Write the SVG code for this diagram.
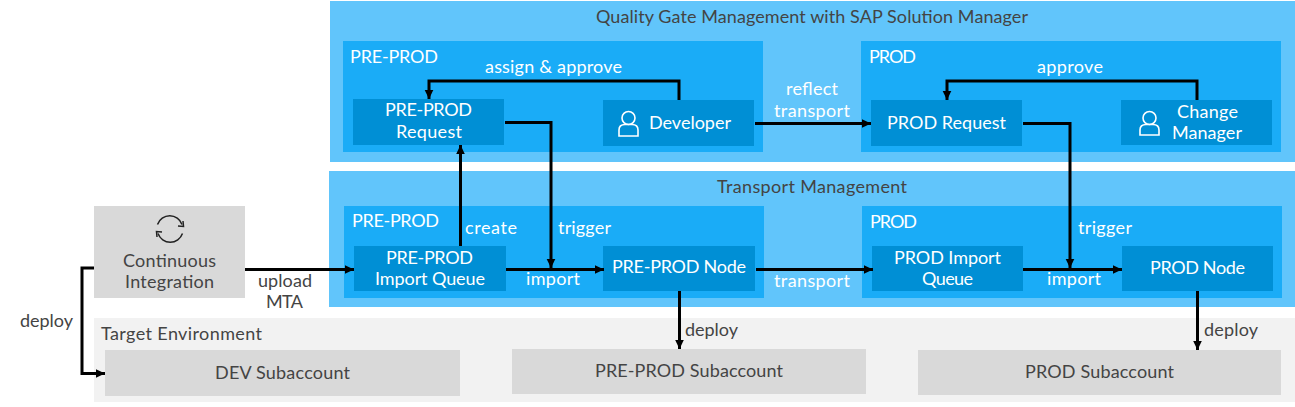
<svg xmlns="http://www.w3.org/2000/svg" width="1295" height="407" viewBox="0 0 1295 407">
<style>
text{font-family:"Lato","Noto Sans","Liberation Sans",sans-serif;font-size:18px}
.w{fill:#fff}.d{fill:#444}
.o{fill:#61c5fb}.i{fill:#1aacf7}.n{fill:#008fd5}.g{fill:#d9d9d9}.l{fill:#f2f2f2}
.c{fill:none;stroke:#000;stroke-width:3}
.ic{fill:none;stroke:#fff;stroke-width:1.6}
</style>
<defs><marker id="a" markerUnits="userSpaceOnUse" markerWidth="10" markerHeight="10" refX="9" refY="5" orient="auto"><path d="M0 0.7L9 5L0 9.3z" fill="#000"/></marker></defs>
<g id="quality-gate"><rect class="o" x="330" y="1" width="965" height="161"/><text class="d" x="596" y="23" textLength="432">Quality Gate Management with SAP Solution Manager</text></g>
<g id="transport-management"><rect class="o" x="329" y="171" width="966" height="136"/><text class="d" x="717" y="193" textLength="190">Transport Management</text></g>
<g id="target-environment"><rect class="l" x="94" y="318" width="1201" height="84"/><text class="d" x="101" y="340" textLength="161">Target Environment</text></g>
<g id="qg-preprod"><rect class="i" x="343" y="41" width="420" height="111"/><text class="w" x="350" y="63" textLength="88">PRE-PROD</text></g>
<g id="qg-prod"><rect class="i" x="861" y="41" width="420" height="111"/><text class="w" x="869" y="63" textLength="47">PROD</text></g>
<g id="tm-preprod"><rect class="i" x="344" y="206" width="420" height="92"/><text class="w" x="352" y="227" textLength="87">PRE-PROD</text></g>
<g id="tm-prod"><rect class="i" x="862" y="206" width="420" height="92"/><text class="w" x="870" y="228" textLength="47">PROD</text></g>
<g id="preprod-request"><rect class="n" x="353" y="99" width="151" height="46"/><text class="w" x="385" y="116" textLength="87">PRE-PROD</text><text class="w" x="396" y="138" textLength="66">Request</text></g>
<g id="developer"><rect class="n" x="603" y="100" width="151" height="46"/><circle class="ic" cx="628.500" cy="118" r="6.500"/><path class="ic" d="M619 136V130Q619 124.500 625 124.500H632Q638 124.500 638 130V136z"/><text class="w" x="649" y="129" textLength="82">Developer</text></g>
<g id="prod-request"><rect class="n" x="871" y="100" width="151" height="46"/><text class="w" x="887" y="129" textLength="119">PROD Request</text></g>
<g id="change-manager"><rect class="n" x="1121" y="100" width="151" height="45"/><circle class="ic" cx="1149.500" cy="118" r="6.500"/><path class="ic" d="M1140 135V130Q1140 124.500 1146 124.500H1153Q1159 124.500 1159 130V135z"/><text class="w" x="1177" y="118" textLength="61">Change</text><text class="w" x="1172" y="139" textLength="70">Manager</text></g>
<g id="preprod-queue"><rect class="n" x="354" y="246" width="152" height="45"/><text class="w" x="386" y="264" textLength="87">PRE-PROD</text><text class="w" x="375" y="285" textLength="110">Import Queue</text></g>
<g id="preprod-node"><rect class="n" x="603" y="246" width="152" height="45"/><text class="w" x="612" y="273" textLength="134">PRE-PROD Node</text></g>
<g id="prod-queue"><rect class="n" x="872" y="246" width="151" height="45"/><text class="w" x="894" y="264" textLength="107">PROD Import</text><text class="w" x="922" y="285" textLength="51">Queue</text></g>
<g id="prod-node"><rect class="n" x="1122" y="246" width="151" height="45"/><text class="w" x="1150" y="274" textLength="95">PROD Node</text></g>
<g id="ci"><rect class="g" x="94" y="206" width="151" height="92"/>
<path d="M157.500 224.500A13 13 0 0 1 182 224.500M182.500 233.500A13 13 0 0 1 158 233.500" fill="none" stroke="#222" stroke-width="1.500"/>
<path d="M178 226L183.500 226.500L183 221M162 232L156.500 231.500L157 237" fill="none" stroke="#222" stroke-width="1.500"/>
<text class="d" x="123" y="267" textLength="93">Continuous</text><text class="d" x="125" y="288" textLength="89">Integration</text></g>
<g id="dev-sub"><rect class="g" x="105" y="350" width="355" height="46"/><text class="d" x="215" y="379" textLength="135">DEV Subaccount</text></g>
<g id="preprod-sub"><rect class="g" x="512" y="349" width="354" height="45"/><text class="d" x="595" y="377" textLength="188">PRE-PROD Subaccount</text></g>
<g id="prod-sub"><rect class="g" x="918" y="350" width="363" height="45"/><text class="d" x="1025" y="378" textLength="149">PROD Subaccount</text></g>
<g id="connectors">
<path class="c" marker-end="url(#a)" d="M679 100V81H429V99"/>
<path class="c" marker-end="url(#a)" d="M1197 100V81H947V100"/>
<path class="c" marker-end="url(#a)" d="M505 122.500H551V268"/>
<path class="c" marker-end="url(#a)" d="M460.500 246V145"/>
<path class="c" marker-end="url(#a)" d="M755 123.500H871"/>
<path class="c" marker-end="url(#a)" d="M1023 123.500H1070V268"/>
<path class="c" marker-end="url(#a)" d="M245 269.500H354"/>
<path class="c" marker-end="url(#a)" d="M94 268H82V373.500H105"/>
<path class="c" marker-end="url(#a)" d="M506 269.500H604"/>
<path class="c" marker-end="url(#a)" d="M756 269.500H873"/>
<path class="c" marker-end="url(#a)" d="M1023 269.500H1122"/>
<path class="c" marker-end="url(#a)" d="M679.500 291V349"/>
<path class="c" marker-end="url(#a)" d="M1197.500 291V350"/>
<text class="w" x="485" y="73" textLength="137">assign &amp; approve</text>
<text class="w" x="1037" y="73" textLength="66">approve</text>
<text class="w" x="786" y="95" textLength="52">reflect</text>
<text class="w" x="774" y="117" textLength="76">transport</text>
<text class="w" x="465" y="234" textLength="52">create</text>
<text class="w" x="558" y="234" textLength="53">trigger</text>
<text class="w" x="1078" y="234" textLength="54">trigger</text>
<text class="w" x="526" y="285" textLength="54">import</text>
<text class="w" x="1047" y="285" textLength="54">import</text>
<text class="w" x="774" y="287" textLength="76">transport</text>
<text class="d" x="258" y="287" textLength="54">upload</text>
<text class="d" x="266" y="308" textLength="37">MTA</text>
<text class="d" x="20" y="327" textLength="53">deploy</text>
<text class="d" x="685" y="336" textLength="53">deploy</text>
<text class="d" x="1204" y="336" textLength="54">deploy</text>
</g>
</svg>
